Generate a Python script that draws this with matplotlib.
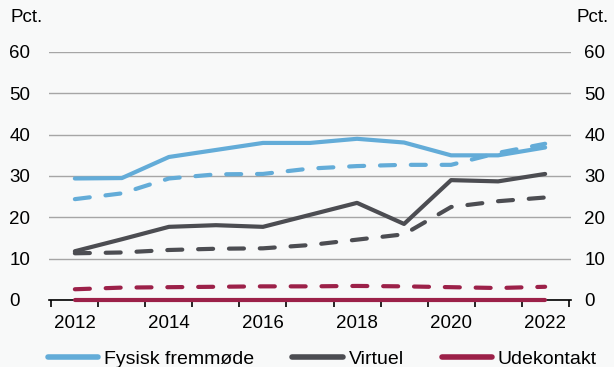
import numpy as np
import matplotlib.pyplot as plt
import matplotlib.transforms as mtrans
from matplotlib.ticker import FixedLocator

plt.rcParams['font.family'] = ['Liberation Sans', 'DejaVu Sans']

years = list(range(2012, 2023))
fysisk = [29.4, 29.5, 34.6, 36.3, 38.0, 38.0, 39.0, 38.1, 35.0, 35.0, 36.9]
fysisk_dash = [24.4, 25.8, 29.4, 30.4, 30.5, 31.8, 32.4, 32.7, 32.7, 35.6, 37.8]
virtuel = [11.8, 14.7, 17.7, 18.1, 17.7, 20.6, 23.5, 18.4, 29.0, 28.7, 30.5]
virtuel_dash = [11.3, 11.5, 12.1, 12.4, 12.5, 13.3, 14.6, 15.9, 22.5, 23.9, 24.8]
ude = [0.1] * 11
ude_dash = [2.6, 3.0, 3.1, 3.2, 3.3, 3.3, 3.4, 3.3, 3.1, 2.9, 3.2]

c_blue = '#63acd8'
c_gray = '#4c4d52'
c_red = '#9c2149'
bg = '#f8f9f9'
fs = 13.5

fig = plt.figure(figsize=(6.14, 3.67), dpi=100, facecolor=bg)
ax = fig.add_axes([49 / 614, 1 - 300 / 367, 522 / 614, 248 / 367], facecolor=bg)

lw = 3
for vals, vals_d, col, lab in [(fysisk, fysisk_dash, c_blue, 'Fysisk fremmøde'),
                               (virtuel, virtuel_dash, c_gray, 'Virtuel'),
                               (ude, ude_dash, c_red, 'Udekontakt')]:
    ax.plot(years, vals, color=col, lw=lw, label=lab, solid_capstyle='round',
            zorder=3, clip_on=False)
    ax.plot(years, vals_d, color=col, lw=lw, ls=(0, (3.6, 3.8)),
            dash_capstyle='round', zorder=3)

ax.set_ylim(0, 60)
ax.set_xlim(2011.45, 2022.55)
ax.set_yticks(range(0, 61, 10))
ax.yaxis.grid(True, color='#a6a6a6', lw=1)
ax.set_axisbelow(True)
for s in ['left', 'right', 'top']:
    ax.spines[s].set_visible(False)
ax.spines['bottom'].set_color('black')
ax.spines['bottom'].set_linewidth(1.2)

ax.tick_params(axis='y', length=0, labelsize=fs, labelright=True, pad=28.5)
# left labels left-aligned at the figure edge, right labels near the axis
off = mtrans.ScaledTranslation(-19 / 72, 0, fig.dpi_scale_trans)
for t in ax.yaxis.get_major_ticks():
    t.label1.set_horizontalalignment('left')
    t.label2.set_horizontalalignment('left')
    t.label2.set_transform(t.label2.get_transform() + off)

ax.set_xticks(range(2012, 2023, 2))
ax.xaxis.set_minor_locator(FixedLocator(np.arange(2011.5, 2023, 1)))
ax.tick_params(axis='x', which='major', length=0, labelsize=fs, pad=11)
ax.tick_params(axis='x', which='minor', length=5, width=1.2, color='black', direction='out')

fig.text(10 / 614, 1 - 18 / 367, 'Pct.', fontsize=fs, va='center', ha='left')
fig.text(577 / 614, 1 - 18 / 367, 'Pct.', fontsize=fs, va='center', ha='left')

leg = fig.legend(loc='lower center', bbox_to_anchor=(0.525, -0.05), ncol=3, frameon=False,
                 fontsize=14, handlelength=2.6, handletextpad=0.3, columnspacing=1.95)
for h in leg.get_lines():
    h.set_linewidth(4)
    h.set_solid_capstyle('round')

fig.savefig('out.png', dpi=100, facecolor=bg)
